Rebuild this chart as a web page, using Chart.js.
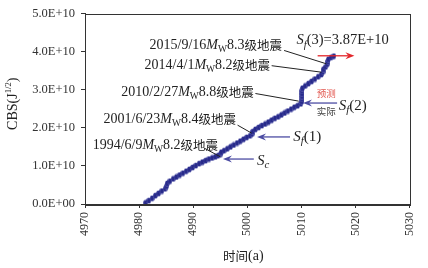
<!DOCTYPE html>
<html>
<head>
<meta charset="utf-8">
<script src="https://cdn.jsdelivr.net/npm/chart.js@4/dist/chart.umd.min.js"></script>
<style>
  html, body { margin: 0; padding: 0; background: #fff; }
  #c { display: block; }
</style>
</head>
<body>
<canvas id="c" width="428" height="268"></canvas>
<script>
// time (a) of each point
var years = [
  4981.2, 4981.8, 4982.4, 4983.0, 4983.6, 4984.2, 4984.8, 4985.1, 4985.2,
  4985.7, 4986.3, 4986.9, 4987.5, 4988.1, 4988.7, 4989.3, 4989.9, 4990.5, 4991.1,
  4991.7, 4992.3, 4992.9, 4993.5, 4994.1, 4994.6, 4995.1, 4995.2,
  4995.7, 4996.3, 4996.9, 4997.5, 4998.1, 4998.7, 4999.3, 4999.9, 5000.5, 5000.9, 5001.0,
  5001.5, 5002.1, 5002.7, 5003.3, 5003.9, 5004.5, 5005.1, 5005.7, 5006.3, 5006.9,
  5007.5, 5008.1, 5008.7, 5009.3, 5009.9,
  5010.1, 5010.1, 5010.1, 5010.1, 5010.1, 5010.2,
  5010.7, 5011.3, 5011.9, 5012.5, 5013.1, 5013.7, 5014.0, 5014.1, 5014.5,
  5014.8, 5014.9, 5015.0, 5015.5, 5016.0
];
// CBS in units of 1E+10 J^(1/2)
var cbsE10 = [
  0.03, 0.09, 0.15, 0.22, 0.28, 0.34, 0.40, 0.47, 0.54,
  0.60, 0.66, 0.71, 0.76, 0.81, 0.86, 0.91, 0.96, 1.01, 1.06,
  1.10, 1.14, 1.18, 1.21, 1.24, 1.27, 1.31, 1.36,
  1.40, 1.45, 1.50, 1.55, 1.60, 1.65, 1.70, 1.75, 1.79, 1.84, 1.90,
  1.96, 2.01, 2.06, 2.10, 2.15, 2.20, 2.25, 2.29, 2.34, 2.39,
  2.44, 2.49, 2.54, 2.58, 2.63,
  2.69, 2.76, 2.83, 2.90, 2.97, 3.04,
  3.10, 3.16, 3.22, 3.28, 3.34, 3.40, 3.47, 3.54, 3.60,
  3.67, 3.74, 3.80, 3.85, 3.88
];
var xTicks = [4970, 4980, 4990, 5000, 5010, 5020, 5030];
var yTickLabels = ['0.0E+00', '1.0E+10', '2.0E+10', '3.0E+10', '4.0E+10', '5.0E+10'];

// earthquakes: date, magnitude
var quakeDates = ['2015/9/16', '2014/4/1', '2010/2/27', '2001/6/23', '1994/6/9'];
var quakeMags = ['8.3', '8.2', '8.8', '8.4', '8.2'];

var SERIF = '"Liberation Serif", "Times New Roman", serif';
var CJK = '"Noto Sans CJK SC", sans-serif';
var AXIS = '#333';

// small vertical ellipse used as marker, darker core so the beads stay visible
var dot = document.createElement('canvas');
dot.width = 5; dot.height = 7;
(function () {
  var g = dot.getContext('2d');
  var gr = g.createRadialGradient(2.5, 3.5, 0.5, 2.5, 3.5, 3);
  gr.addColorStop(0, '#262887');
  gr.addColorStop(0.7, '#2e3192');
  gr.addColorStop(1, '#6b6db8');
  g.fillStyle = gr;
  g.beginPath();
  g.ellipse(2.5, 3.5, 2.3, 3.1, 0, 0, Math.PI * 2);
  g.fill();
})();

// rich text: segs = [{t, s:'n'|'i'|'sub'|'isub'|'sup'|'cjk'}]
function segFont(s, size) {
  if (s === 'i') return 'italic ' + size + 'px ' + SERIF;
  if (s === 'sub') return size * 0.68 + 'px ' + SERIF;
  if (s === 'isub') return 'italic ' + size * 0.72 + 'px ' + SERIF;
  if (s === 'sup') return size * 0.62 + 'px ' + SERIF;
  if (s === 'cjk') return (size - 1.5) + 'px ' + CJK;
  return size + 'px ' + SERIF;
}
function drawRich(ctx, segs, x, y, align, size, color) {
  var w = 0;
  segs.forEach(function (sg) { ctx.font = segFont(sg.s, size); w += ctx.measureText(sg.t).width; });
  var cx = align === 'right' ? x - w : (align === 'center' ? x - w / 2 : x);
  ctx.textBaseline = 'middle';
  ctx.textAlign = 'left';
  segs.forEach(function (sg) {
    ctx.font = segFont(sg.s, size);
    ctx.fillStyle = color;
    var dy = (sg.s === 'sub' || sg.s === 'isub') ? size * 0.3 : (sg.s === 'sup' ? -size * 0.3 : 0);
    ctx.fillText(sg.t, cx, y + dy);
    cx += ctx.measureText(sg.t).width;
  });
  return w;
}
function line(ctx, x1, y1, x2, y2, color, w) {
  ctx.strokeStyle = color; ctx.lineWidth = w || 1;
  ctx.beginPath(); ctx.moveTo(x1, y1); ctx.lineTo(x2, y2); ctx.stroke();
}
function arrow(ctx, x1, y, x2, color) {
  // horizontal arrow from x1 to x2 (head at x2)
  var d = x2 > x1 ? 1 : -1;
  line(ctx, x1, y, x2 - d * 6, y, color, 1.3);
  ctx.fillStyle = color;
  ctx.beginPath();
  ctx.moveTo(x2, y);
  ctx.lineTo(x2 - d * 9, y - 3.5);
  ctx.lineTo(x2 - d * 6, y);
  ctx.lineTo(x2 - d * 9, y + 3.5);
  ctx.closePath();
  ctx.fill();
}

var notes = {
  id: 'notes',
  afterDraw: function (chart) {
    var ctx = chart.ctx, a = chart.chartArea;
    var X = function (v) { return chart.scales.x.getPixelForValue(v); };
    var Y = function (v) { return chart.scales.y.getPixelForValue(v * 1e10); };
    ctx.save();
    // frame
    ctx.strokeStyle = AXIS; ctx.lineWidth = 1;
    ctx.strokeRect(Math.round(a.left) + 0.5, Math.round(a.top) + 0.5,
      Math.round(a.right - a.left), Math.round(a.bottom - a.top));

    // earthquake labels (text end in data space) and leader lines
    var labelEnd = [[5006.4, 4.16], [5004.2, 3.64], [5001.2, 2.94], [4997.9, 2.22], [4994.6, 1.54]];
    var leaders = [
      [5006.8, 4.03, 5014.6, 3.68],
      [5004.5, 3.63, 5013.7, 3.46],
      [5001.5, 2.90, 5009.5, 2.70],
      [4998.2, 2.07, 5000.8, 1.86],
      [4992.0, 1.47, 4995.0, 1.24]
    ];
    quakeDates.forEach(function (d, i) {
      drawRich(ctx, [
        { t: d, s: 'n' }, { t: 'M', s: 'i' }, { t: 'W', s: 'sub' },
        { t: quakeMags[i], s: 'n' }, { t: '级地震', s: 'cjk' }
      ], X(labelEnd[i][0]), Y(labelEnd[i][1]), 'right', 14, '#222');
      var l = leaders[i];
      line(ctx, X(l[0]), Y(l[1]), X(l[2]), Y(l[3]), '#222', 1);
    });

    // S_f(3)
    drawRich(ctx, [{ t: 'S', s: 'i' }, { t: 'f', s: 'isub' }, { t: '(3)=3.87E+10', s: 'n' }],
      X(5009.1), Y(4.29), 'left', 14.5, '#222');
    arrow(ctx, X(5013.0), Y(3.89), X(5019.8), '#e3262b');

    // S_f(2) with 预测 / 实际
    arrow(ctx, X(5016.6), Y(2.65), X(5010.3), '#4c4ca3');
    ctx.font = '9.5px ' + CJK; ctx.textAlign = 'center'; ctx.textBaseline = 'middle';
    ctx.fillStyle = '#e2574f'; ctx.fillText('预测', X(5014.6), Y(2.90));
    ctx.fillStyle = '#444'; ctx.fillText('实际', X(5014.6), Y(2.44));
    drawRich(ctx, [{ t: 'S', s: 'i' }, { t: 'f', s: 'isub' }, { t: '(2)', s: 'n' }],
      X(5016.9), Y(2.57), 'left', 15, '#222');

    // S_f(1)
    arrow(ctx, X(5007.9), Y(1.76), X(5001.8), '#4c4ca3');
    drawRich(ctx, [{ t: 'S', s: 'i' }, { t: 'f', s: 'isub' }, { t: '(1)', s: 'n' }],
      X(5008.5), Y(1.76), 'left', 15, '#222');

    // S_c
    arrow(ctx, X(5001.2), Y(1.18), X(4995.5), '#4c4ca3');
    drawRich(ctx, [{ t: 'S', s: 'i' }, { t: 'c', s: 'isub' }],
      X(5001.8), Y(1.13), 'left', 15, '#222');

    // axis titles
    var xm = (a.left + a.right) / 2;
    drawRich(ctx, [{ t: '时间', s: 'cjk' }, { t: '(a)', s: 'n' }], xm - 4, 256, 'center', 14, '#222');
    ctx.translate(13, (a.top + a.bottom) / 2 - 5);
    ctx.rotate(-Math.PI / 2);
    drawRich(ctx, [{ t: 'CBS(J', s: 'n' }, { t: '1/2', s: 'sup' }, { t: ')', s: 'n' }], 0, 0, 'center', 14, '#222');
    ctx.restore();
  }
};

new Chart(document.getElementById('c'), {
  type: 'scatter',
  data: {
    datasets: [{
      data: years.map(function (x, i) { return { x: x, y: cbsE10[i] * 1e10 }; }),
      pointStyle: dot,
      pointRadius: 3,
      showLine: false
    }]
  },
  options: {
    responsive: false,
    animation: false,
    devicePixelRatio: 1,
    layout: { padding: { left: 20, right: 13, top: 13, bottom: 0 } },
    plugins: { legend: { display: false }, tooltip: { enabled: false } },
    scales: {
      x: {
        type: 'linear', min: 4970, max: 5030,
        afterBuildTicks: function (s) { s.ticks = xTicks.map(function (v) { return { value: v }; }); },
        afterFit: function (s) { s.height = 64; },
        ticks: {
          minRotation: 90, maxRotation: 90, padding: 4, color: '#333',
          font: { family: SERIF, size: 12 },
          callback: function (v) { return String(v); }
        },
        grid: { drawOnChartArea: false, drawTicks: true, tickLength: 4, color: AXIS },
        border: { color: AXIS }
      },
      y: {
        min: 0, max: 5e10,
        afterFit: function (s) { s.width = 65; },
        ticks: {
          stepSize: 1e10, padding: 6, color: '#333',
          font: { family: SERIF, size: 12.5 },
          callback: function (v, i) { return yTickLabels[i]; }
        },
        grid: { drawOnChartArea: false, drawTicks: true, tickLength: 4, color: AXIS },
        border: { color: AXIS }
      }
    }
  },
  plugins: [notes]
});
</script>
</body>
</html>
